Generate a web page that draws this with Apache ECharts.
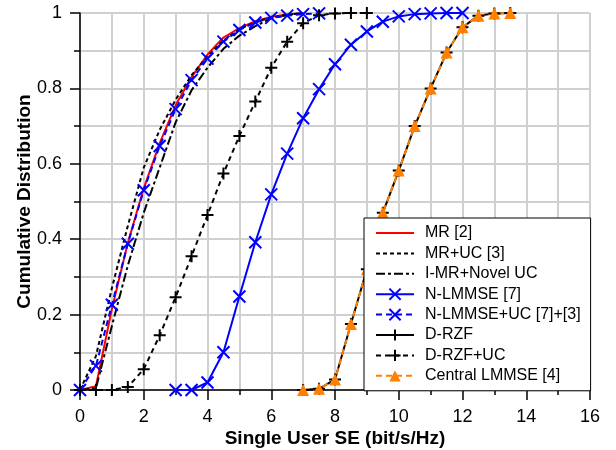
<!DOCTYPE html>
<html>
<head>
<meta charset="utf-8">
<script src="https://cdn.jsdelivr.net/npm/echarts@6/dist/echarts.min.js"></script>
<style>html,body{margin:0;padding:0;background:#fff}#c{width:616px;height:450px}</style>
</head>
<body>
<div id="c"></div>
<script>
// ---- Data ----
const seriesNames = ['MR [2]', 'MR+UC [3]', 'I-MR+Novel UC', 'N-LMMSE [7]', 'N-LMMSE+UC [7]+[3]', 'D-RZF', 'D-RZF+UC', 'Central LMMSE [4]'];

const xMR = [0, 0.5, 1, 1.5, 2, 2.5, 3, 3.5, 4, 4.5, 5, 5.5, 6, 6.5, 7];
const yMR = [0, 0.01, 0.215, 0.39, 0.535, 0.655, 0.755, 0.83, 0.89, 0.935, 0.96, 0.978, 0.99, 0.996, 1];

const xMRUC = [0, 0.5, 1, 1.5, 2, 2.5, 3, 3.5, 4, 4.5, 5, 5.5, 6, 6.5, 7];
const yMRUC = [0, 0.09, 0.27, 0.435, 0.59, 0.69, 0.77, 0.835, 0.885, 0.927, 0.957, 0.976, 0.988, 0.995, 1];

const xIMR = [0, 0.5, 1, 1.5, 2, 2.5, 3, 3.5, 4, 4.5, 5, 5.5, 6, 6.5, 7];
const yIMR = [0, 0.005, 0.17, 0.33, 0.47, 0.59, 0.71, 0.795, 0.855, 0.905, 0.94, 0.965, 0.986, 0.995, 1];

const xNL = [3, 3.5, 4, 4.5, 5, 5.5, 6, 6.5, 7, 7.5, 8, 8.5, 9, 9.5, 10, 10.5, 11, 11.5, 12];
const yNL = [0, 0, 0.02, 0.10, 0.248, 0.392, 0.519, 0.627, 0.721, 0.798, 0.864, 0.916, 0.951, 0.977, 0.991, 0.997, 0.999, 1, 1];

const xNLUC = [0, 0.5, 1, 1.5, 2, 2.5, 3, 3.5, 4, 4.5, 5, 5.5, 6, 6.5, 7, 7.5];
const yNLUC = [0, 0.064, 0.226, 0.388, 0.53, 0.647, 0.745, 0.822, 0.879, 0.924, 0.955, 0.975, 0.987, 0.993, 0.997, 0.999];

const xDRZF = [7, 7.5, 8, 8.5, 9, 9.5, 10, 10.5, 11, 11.5, 12, 12.5, 13, 13.5];
const yDRZF = [0, 0.003, 0.028, 0.175, 0.32, 0.47, 0.582, 0.70, 0.80, 0.895, 0.962, 0.993, 0.999, 1];

const xDRZFUC = [0, 0.5, 1, 1.5, 2, 2.5, 3, 3.5, 4, 4.5, 5, 5.5, 6, 6.5, 7, 7.5, 8, 8.5, 9];
const yDRZFUC = [0, 0, 0, 0.008, 0.055, 0.145, 0.246, 0.355, 0.464, 0.574, 0.674, 0.765, 0.855, 0.924, 0.973, 0.994, 0.999, 1, 1];

const xCL = [7, 7.5, 8, 8.5, 9, 9.5, 10, 10.5, 11, 11.5, 12, 12.5, 13, 13.5];
const yCL = [0, 0.003, 0.028, 0.175, 0.32, 0.47, 0.582, 0.70, 0.80, 0.895, 0.962, 0.993, 0.999, 1];

const xTicks = [0, 2, 4, 6, 8, 10, 12, 14, 16];
const yTicks = [0, 0.2, 0.4, 0.6, 0.8, 1];

// ---- Build ----
const zip = (xs, ys) => xs.map((x, i) => [x, ys[i]]);
const FONT = "'Liberation Sans', Arial, sans-serif";
const X_SYM = 'path://M0,0L10,10M10,0L0,10';
const P_SYM = 'path://M5,0L5,10M0,5L10,5';

function lineSeries(name, data, color, type, symbol, symbolSize) {
  const isPath = symbol && symbol.startsWith('path');
  return {
    name, type: 'line', data,
    showAllSymbol: true,
    symbol: symbol || 'none',
    symbolSize: symbolSize || 12,
    lineStyle: { color, width: 2, type: type || 'solid' },
    itemStyle: { color: isPath ? 'rgba(0,0,0,0)' : color, borderColor: color, borderWidth: isPath ? 2 : 0 },
    emphasis: { disabled: true },
    silent: true,
    animation: false
  };
}

const noMarkerLegend = new Set([seriesNames[0], seriesNames[1], seriesNames[2]]);
const legendData = seriesNames.map(n => noMarkerLegend.has(n)
  ? { name: n, itemStyle: { color: 'rgba(0,0,0,0)', borderColor: 'rgba(0,0,0,0)', borderWidth: 0, opacity: 0 } }
  : { name: n });

const chart = echarts.init(document.getElementById('c'), null, { renderer: 'canvas' });
chart.setOption({
  animation: false,
  backgroundColor: '#fff',
  grid: { left: 80, right: 26, top: 13, bottom: 60, show: true, borderColor: '#555', borderWidth: 1, outerBoundsMode: 'none', containLabel: false },
  xAxis: {
    type: 'value', min: xTicks[0], max: xTicks[xTicks.length - 1], interval: 2,
    name: 'Single User SE (bit/s/Hz)', nameLocation: 'middle', nameGap: 39, nameMoveOverlap: false,
    nameTextStyle: { fontFamily: FONT, fontSize: 19, fontWeight: 'bold', color: '#000' },
    axisLine: { lineStyle: { color: '#000', width: 1.5 } },
    axisTick: { show: true, inside: false, length: 10, lineStyle: { color: '#000', width: 1.5 } },
    minorTick: { show: true, splitNumber: 2, length: 5, lineStyle: { color: '#000', width: 1.5 } },
    axisLabel: { fontFamily: FONT, fontSize: 18, color: '#000', margin: 18 },
    splitLine: { show: true, lineStyle: { color: '#d0d0d0', width: 2 } },
    minorSplitLine: { show: true, lineStyle: { color: '#d0d0d0', width: 2 } }
  },
  yAxis: {
    type: 'value', min: yTicks[0], max: yTicks[yTicks.length - 1], interval: 0.2,
    name: 'Cumulative Distribution', nameLocation: 'middle', nameGap: 46, nameMoveOverlap: false,
    nameTextStyle: { fontFamily: FONT, fontSize: 19, fontWeight: 'bold', color: '#000' },
    axisLine: { show: true, lineStyle: { color: '#000', width: 1.5 } },
    axisTick: { show: true, inside: false, length: 10, lineStyle: { color: '#000', width: 1.5 } },
    minorTick: { show: true, splitNumber: 2, length: 6, lineStyle: { color: '#000', width: 1.5 } },
    axisLabel: { fontFamily: FONT, fontSize: 18, color: '#000', margin: 18 },
    splitLine: { show: true, lineStyle: { color: '#d0d0d0', width: 2 } },
    minorSplitLine: { show: true, lineStyle: { color: '#d0d0d0', width: 2 } }
  },
  legend: {
    orient: 'vertical', left: 364, top: 218,
    itemWidth: 38, itemHeight: 14, itemGap: 4.4,
    padding: [7, 10, 7, 11],
    backgroundColor: '#fff', borderColor: '#000', borderWidth: 1,
    textStyle: { fontFamily: FONT, fontSize: 16, color: '#000', lineHeight: 16, padding: [0, 0, 0, 6] },
    data: legendData,
    selectedMode: false
  },
  series: [
    lineSeries(seriesNames[0], zip(xMR, yMR), '#ff0000', 'solid'),
    lineSeries(seriesNames[1], zip(xMRUC, yMRUC), '#000000', [4, 3]),
    lineSeries(seriesNames[2], zip(xIMR, yIMR), '#000000', [9, 3, 3, 3]),
    lineSeries(seriesNames[3], zip(xNL, yNL), '#0000ff', 'solid', X_SYM, 12),
    lineSeries(seriesNames[4], zip(xNLUC, yNLUC), '#0000ff', [6, 4], X_SYM, 12),
    lineSeries(seriesNames[5], zip(xDRZF, yDRZF), '#000000', 'solid', P_SYM, 12),
    lineSeries(seriesNames[6], zip(xDRZFUC, yDRZFUC), '#000000', [5, 4], P_SYM, 12),
    lineSeries(seriesNames[7], zip(xCL, yCL), '#ff8000', [6, 4], 'triangle', 12)
  ]
});
</script>
</body>
</html>
